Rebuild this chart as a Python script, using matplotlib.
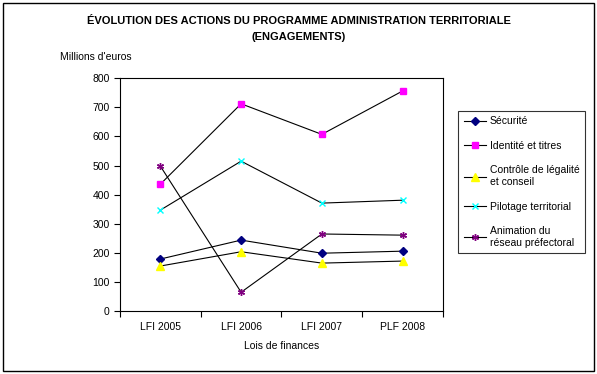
import matplotlib.pyplot as plt

plt.rcParams['font.family'] = ['Liberation Sans', 'DejaVu Sans']

# données (millions d'euros)
annees = ['LFI 2005', 'LFI 2006', 'LFI 2007', 'PLF 2008']
securite = [179, 244, 199, 206]
identite = [436, 712, 607, 756]
controle = [155, 204, 165, 172]
pilotage = [347, 515, 371, 381]
animation = [498, 65, 265, 261]

series = [
    ('Sécurité', securite, 'D', '#000080', 4),
    ('Identité et titres', identite, 's', '#FF00FF', 5),
    ('Contrôle de légalité\net conseil', controle, '^', '#FFFF00', 6),
    ('Pilotage territorial', pilotage, 'x', '#00FFFF', 5),
    ('Animation du\nréseau préfectoral', animation, (6, 2, 0), '#800080', 5),
]

fig = plt.figure(figsize=(5.97, 3.74), dpi=100)
# cadre extérieur
fig.patches.append(plt.Rectangle((0.005, 0.008), 0.99, 0.984, transform=fig.transFigure,
                                 fill=False, edgecolor='black', linewidth=1))

ax = fig.add_axes([0.201, 0.168, 0.541, 0.623])
x = list(range(len(annees)))
for nom, vals, mk, coul, ms in series:
    ax.plot(x, vals, color='black', linewidth=0.8, marker=mk, markersize=ms,
            markerfacecolor=coul, markeredgecolor=coul, label=nom)

ax.set_xlim(-0.5, 3.5)
ax.set_ylim(0, 800)
ax.set_yticks(range(0, 801, 100))
ax.set_xticks([i - 0.5 for i in range(5)], minor=False)
ax.set_xticklabels([])
ax.set_xticks(x, minor=True)
ax.set_xticklabels(annees, minor=True)
ax.tick_params(axis='x', which='minor', length=0, labelsize=7.5, pad=8)
ax.tick_params(axis='x', which='major', length=4, direction='out')
ax.tick_params(axis='y', length=4, direction='out', labelsize=7.5)
for s in ax.spines.values():
    s.set_linewidth(0.8)

fig.text(0.5, 0.945, 'ÉVOLUTION DES ACTIONS DU PROGRAMME ADMINISTRATION TERRITORIALE',
         ha='center', va='center', fontsize=8, fontweight='bold', fontstretch='condensed')
fig.text(0.5, 0.902, '(ENGAGEMENTS)', ha='center', va='center', fontsize=8, fontweight='bold')
fig.text(0.1, 0.848, "Millions d'euros", ha='left', va='center', fontsize=7.5)
fig.text(0.472, 0.075, 'Lois de finances', ha='center', va='center', fontsize=7.5)

leg = fig.legend(loc='upper left', bbox_to_anchor=(0.759, 0.717), fontsize=7.5,
                 frameon=True, fancybox=False, edgecolor='black', labelspacing=1.4,
                 handlelength=2.2, handletextpad=0.3, borderpad=0.5)
leg.get_frame().set_linewidth(0.8)

fig.savefig('out.png', dpi=100)
